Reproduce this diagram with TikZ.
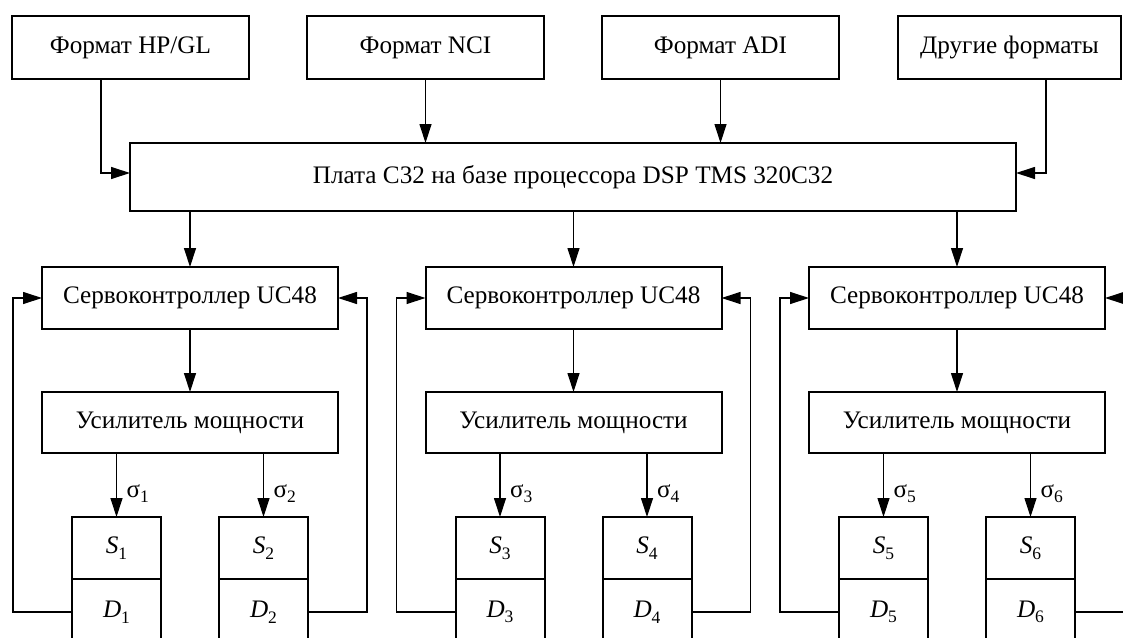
\documentclass[tikz,border=0pt]{standalone}
\usepackage{fontspec}
\setmainfont{Liberation Serif}
\usetikzlibrary{arrows.meta,calc}
\newcommand\subn[1]{\raisebox{-0.22em}{\fontsize{17.5}{17.5}\selectfont #1}}
\begin{document}
\begin{tikzpicture}[x=1pt,y=-1pt,
  box/.style={draw,line width=2pt,rectangle,inner sep=0pt,outer sep=0pt,font=\fontsize{25.2}{29}\selectfont},
  conn/.style={line width=1.2pt,-{Triangle[length=19pt,width=12pt]}},
  lbl/.style={inner sep=0pt,anchor=base west,font=\fontsize{25}{29}\selectfont}]
\useasboundingbox (0,0) rectangle (1123,637);
\clip (0,0) rectangle (1123,637);
% top format boxes
\node[box,minimum width=237pt,minimum height=63pt] (t1) at (130.5,47.5) {Формат HP/GL};
\node[box,minimum width=237pt,minimum height=63pt] (t2) at (425.5,47.5) {Формат NCI};
\node[box,minimum width=237pt,minimum height=63pt] (t3) at (720.5,47.5) {Формат ADI};
\node[box,minimum width=223pt,minimum height=63pt] (t4) at (1009.5,47.5) {Другие форматы};
% plate
\node[box,minimum width=886pt,minimum height=68pt] (pl) at (573,177) {Плата C32 на базе процессора DSP TMS 320C32};
\draw[conn] (t1.south -| 101,0) |- ([yshift=4pt]pl.west);
\draw[conn] (t2.south) -- (t2.south |- pl.north);
\draw[conn] (t3.south) -- (t3.south |- pl.north);
\draw[conn] (t4.south -| 1046,0) |- ([yshift=4pt]pl.east);
% groups
\foreach \g/\a/\b in {0/1/2,1/3/4,2/5/6}{
  \pgfmathsetmacro\cx{190+383.5*\g}
  \pgfmathtruncatemacro\n{\g+1}
  \node[box,minimum width=296pt,minimum height=62pt] (sv\n) at (\cx,298) {Сервоконтроллер UC48};
  \node[box,minimum width=296pt,minimum height=61pt] (amp\n) at (\cx,422.5) {Усилитель мощности};
  \node[box,minimum width=89pt,minimum height=62pt] (s\a) at (\cx-73.5,548) {\textit{S}\subn{\a}};
  \node[box,minimum width=89pt,minimum height=62pt] (s\b) at (\cx+73.5,548) {\textit{S}\subn{\b}};
  \node[box,minimum width=89pt,minimum height=66pt] (d\a) at (\cx-73.5,612) {\textit{D}\subn{\a}};
  \node[box,minimum width=89pt,minimum height=66pt] (d\b) at (\cx+73.5,612) {\textit{D}\subn{\b}};
  \draw[conn] (pl.south -| sv\n.north) -- (sv\n.north);
  \draw[conn] (sv\n.south) -- (amp\n.north);
  \draw[conn] (amp\n.south -| s\a.north) -- (s\a.north);
  \draw[conn] (amp\n.south -| s\b.north) -- (s\b.north);
  \node[lbl] (sg\a) at ([xshift=10pt,yshift=20pt]s\a.north) {σ\subn{\a}};
  \node[lbl] (sg\b) at ([xshift=10pt,yshift=20pt]s\b.north) {σ\subn{\b}};
  \draw[conn] (d\a.west) -- ++(-59,0) |- (sv\n.west);
  \draw[conn] (d\b.east) -- ++(59,0) |- (sv\n.east);
}
\end{tikzpicture}
\end{document}
